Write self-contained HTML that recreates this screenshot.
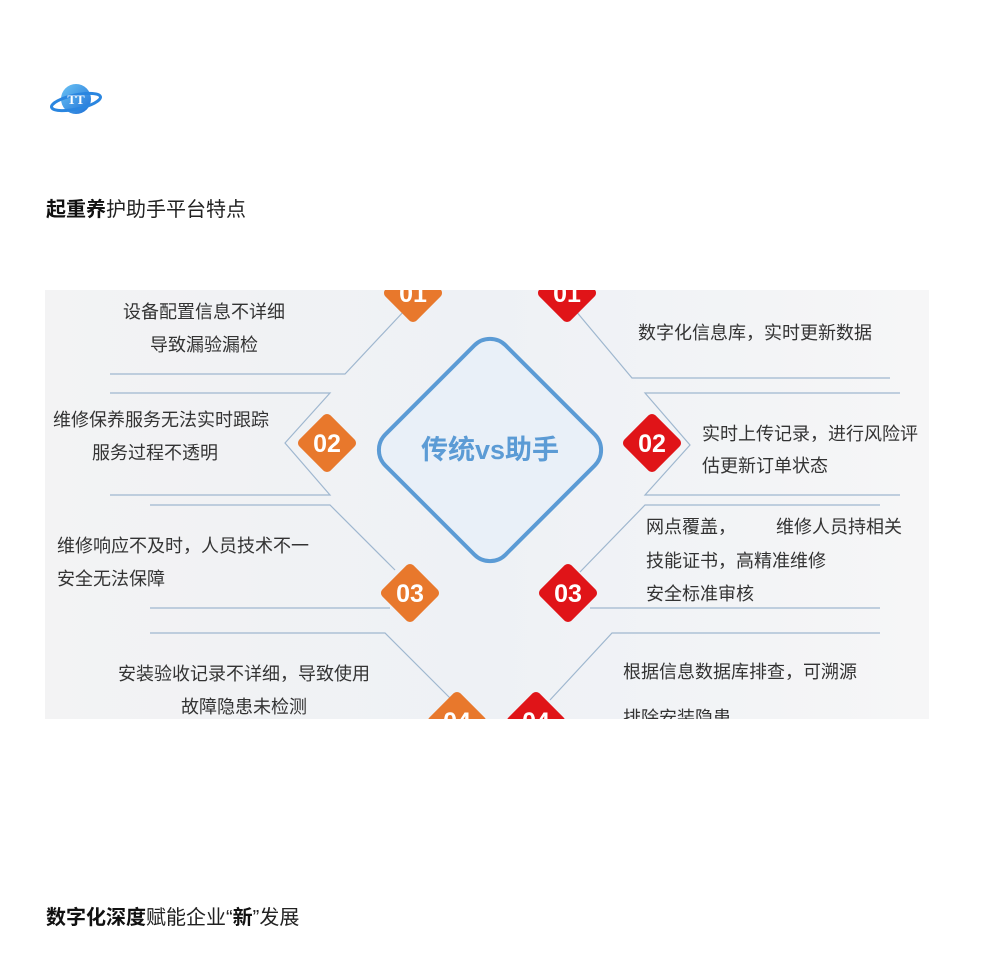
<!DOCTYPE html>
<html><head><meta charset="utf-8"><style>
body{margin:0;width:1000px;height:974px;background:#fff;position:relative;overflow:hidden;font-family:"Liberation Sans","Noto Sans CJK SC",sans-serif;}
.h{position:absolute;left:46px;font-size:20px;color:#222;}
.h b{font-weight:700;color:#111}
</style></head><body>
<svg style="position:absolute;left:50px;top:82px" width="52" height="36" viewBox="0 0 52 36">
<defs><linearGradient id="g" x1="0" y1="0" x2="1" y2="1"><stop offset="0" stop-color="#6cc4f5"/><stop offset="1" stop-color="#1c6fd6"/></linearGradient></defs>
<circle cx="26" cy="17" r="15" fill="url(#g)"/>
<ellipse cx="26" cy="20" rx="25" ry="7" fill="none" stroke="#2a86e0" stroke-width="3" transform="rotate(-12 26 20)"/>
<text x="26" y="22" font-size="13" font-weight="700" fill="#fff" text-anchor="middle" font-family="Liberation Serif,serif">TT</text>
</svg>
<div class="h" style="top:193px"><b>起重养</b>护助手平台特点</div>

<svg style="position:absolute;left:45px;top:290px" width="884" height="429" viewBox="45 290 884 429">
<defs><linearGradient id="bg" x1="0" y1="0" x2="1" y2="0"><stop offset="0" stop-color="#f3f3f4"/><stop offset="0.5" stop-color="#eef1f5"/><stop offset="1" stop-color="#f6f6f7"/></linearGradient></defs>
<rect x="45" y="290" width="884" height="429" fill="url(#bg)"/>
<g fill="none" stroke="#9fb7cf" stroke-width="1.2">
<polyline points="405,310 345,374 110,374"/>
<polyline points="110,393 330,393 285,443 330,495 110,495"/>
<polyline points="150,505 330,505 395,570"/>
<polyline points="150,608 390,608"/>
<polyline points="150,633 385,633 452,700"/>
<polyline points="575,310 632,378 890,378"/>
<polyline points="900,393 645,393 690,445 645,495 900,495"/>
<polyline points="880,505 645,505 580,572"/>
<polyline points="590,608 880,608"/>
<polyline points="880,633 612,633 550,700"/>
</g>
<rect x="405" y="365" width="170" height="170" rx="22" transform="rotate(45 490 450)" fill="#e9f0f8" stroke="#5b9bd5" stroke-width="4"/>
<text x="490" y="459" font-size="27" font-weight="700" fill="#5b9bd5" text-anchor="middle">传统vs助手</text>
<g font-size="25" font-weight="700" fill="#fff" text-anchor="middle">
<g fill="#e8782c"><rect x="391" y="271" width="44" height="44" rx="5" transform="rotate(45 413 293)"/><rect x="305" y="421" width="44" height="44" rx="5" transform="rotate(45 327 443)"/><rect x="388" y="571" width="44" height="44" rx="5" transform="rotate(45 410 593)"/><rect x="435" y="699" width="44" height="44" rx="5" transform="rotate(45 457 721)"/></g>
<g fill="#e01418"><rect x="545" y="271" width="44" height="44" rx="5" transform="rotate(45 567 293)"/><rect x="630" y="421" width="44" height="44" rx="5" transform="rotate(45 652 443)"/><rect x="546" y="571" width="44" height="44" rx="5" transform="rotate(45 568 593)"/><rect x="514" y="699" width="44" height="44" rx="5" transform="rotate(45 536 721)"/></g>
<text x="413" y="302">01</text><text x="327" y="452">02</text><text x="410" y="602">03</text><text x="457" y="730">04</text>
<text x="567" y="302">01</text><text x="652" y="452">02</text><text x="568" y="602">03</text><text x="536" y="730">04</text>
</g>
<g font-size="18" fill="#333">
<text x="123" y="318">设备配置信息不详细</text>
<text x="150" y="351">导致漏验漏检</text>
<text x="53" y="426">维修保养服务无法实时跟踪</text>
<text x="92" y="459">服务过程不透明</text>
<text x="57" y="552">维修响应不及时，人员技术不一</text>
<text x="57" y="585">安全无法保障</text>
<text x="118" y="680">安装验收记录不详细，导致使用</text>
<text x="181" y="713">故障隐患未检测</text>
<text x="638" y="339">数字化信息库，实时更新数据</text>
<text x="702" y="440">实时上传记录，进行风险评</text>
<text x="702" y="472">估更新订单状态</text>
<text x="646" y="533">网点覆盖，</text><text x="776" y="533">维修人员持相关</text>
<text x="646" y="567">技能证书，高精准维修</text>
<text x="646" y="600">安全标准审核</text>
<text x="623" y="678">根据信息数据库排查，可溯源</text>
<text x="623" y="724">排除安装隐患</text>
</g>
</svg>
<div class="h" style="top:901px"><b>数字化深度</b>赋能企业“<b>新</b>”发展</div>
</body></html>
